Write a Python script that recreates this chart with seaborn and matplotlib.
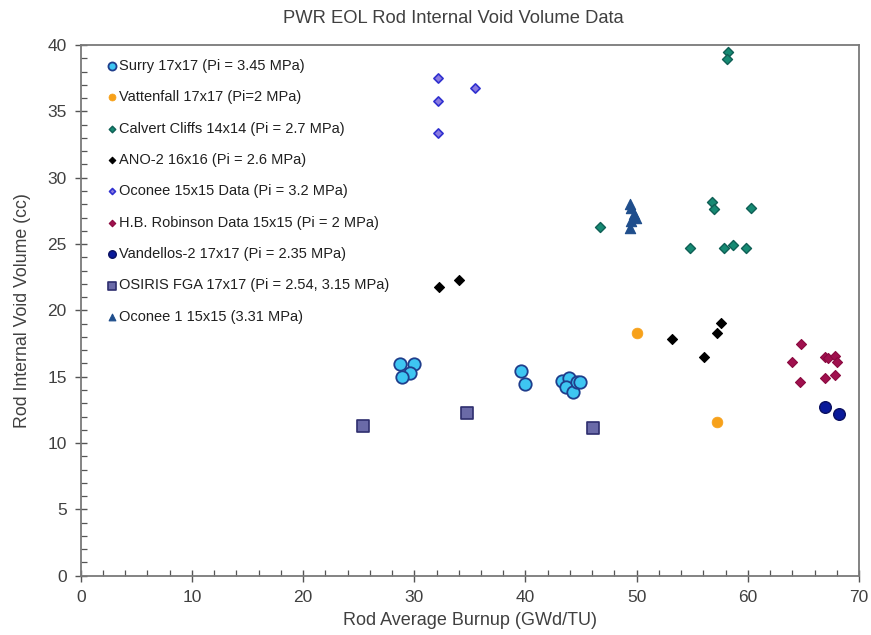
import matplotlib
matplotlib.use("Agg")
import matplotlib.pyplot as plt
import seaborn as sns
import pandas as pd
from matplotlib.ticker import MultipleLocator

sns.set_style("white")
plt.rcParams['font.family'] = ['Liberation Sans', 'DejaVu Sans']

# ---------------- data ----------------
surry_x = [28.7, 30.0, 29.6, 28.9, 39.6, 39.95, 43.3, 43.9, 43.65, 44.3, 44.65, 44.9]
surry_y = [15.97, 15.97, 15.3, 15.0, 15.45, 14.45, 14.7, 14.9, 14.25, 13.85, 14.6, 14.6]

vatt_x = [50.0, 57.2]
vatt_y = [18.3, 11.6]

calvert_x = [58.2, 58.1, 46.7, 56.8, 57.0, 60.3, 54.8, 57.85, 58.65, 59.8]
calvert_y = [39.45, 38.95, 26.3, 28.2, 27.65, 27.7, 24.7, 24.7, 24.9, 24.7]

ano2_x = [32.2, 34.0, 53.2, 56.05, 57.2, 57.6]
ano2_y = [21.8, 22.3, 17.85, 16.5, 18.3, 19.05]

oconee_x = [32.1, 32.1, 32.1, 35.45]
oconee_y = [37.5, 35.8, 33.4, 36.8]

hbr_x = [64.75, 63.95, 64.7, 66.9, 67.25, 67.85, 68.05, 66.9, 67.8]
hbr_y = [17.45, 16.1, 14.6, 16.5, 16.4, 16.55, 16.1, 14.9, 15.15]

vand_x = [66.9, 68.2]
vand_y = [12.7, 12.2]

osiris_x = [25.4, 34.75, 46.05]
osiris_y = [11.3, 12.3, 11.1]

oconee1_x = [49.4, 49.5, 49.8, 49.9, 49.5, 49.4]
oconee1_y = [28.0, 27.7, 27.3, 27.0, 26.75, 26.2]

labels = [
    "Surry 17x17 (Pi = 3.45 MPa)",
    "Vattenfall 17x17 (Pi=2 MPa)",
    "Calvert Cliffs 14x14 (Pi = 2.7 MPa)",
    "ANO-2 16x16 (Pi = 2.6 MPa)",
    "Oconee 15x15 Data (Pi = 3.2 MPa)",
    "H.B. Robinson Data 15x15 (Pi = 2 MPa)",
    "Vandellos-2 17x17 (Pi = 2.35 MPa)",
    "OSIRIS FGA 17x17 (Pi = 2.54, 3.15 MPa)",
    "Oconee 1 15x15 (3.31 MPa)",
]
xs = [surry_x, vatt_x, calvert_x, ano2_x, oconee_x, hbr_x, vand_x, osiris_x, oconee1_x]
ys = [surry_y, vatt_y, calvert_y, ano2_y, oconee_y, hbr_y, vand_y, osiris_y, oconee1_y]

# styles: marker, size, face, edge, edge width
styles = [
    ("o", 80, "#3EC6F2", "#1F3E8C", 1.3),
    ("o", 60, "#F7A11A", "#F7A11A", 0.5),
    ("D", 26, "#168A73", "#0F5F55", 1.0),
    ("D", 26, "#000000", "#000000", 0.8),
    ("D", 22, "#8A7BE0", "#3030D0", 1.2),
    ("D", 26, "#A0104E", "#8A0A40", 0.8),
    ("o", 70, "#0A1A9A", "#0A1060", 1.0),
    ("s", 80, "#6A6AA8", "#2E2E6E", 1.2),
    ("^", 55, "#1F4E8C", "#1F4E8C", 0.8),
]

# ---------------- figure ----------------
fig = plt.figure(figsize=(8.71, 6.35), dpi=100)
ax = fig.add_axes([0.0927, 0.0934, 0.8935, 0.8356])

for lab, x, y, (m, s, fc, ec, lw) in zip(labels, xs, ys, styles):
    df = pd.DataFrame({"x": x, "y": y})
    sns.scatterplot(data=df, x="x", y="y", ax=ax, marker=m, s=s,
                    color=fc, edgecolor=ec, linewidth=lw, label=lab, zorder=3)

ax.set_xlim(0, 70)
ax.set_ylim(0, 40)
ax.xaxis.set_major_locator(MultipleLocator(10))
ax.xaxis.set_minor_locator(MultipleLocator(2))
ax.yaxis.set_major_locator(MultipleLocator(5))
ax.yaxis.set_minor_locator(MultipleLocator(1))

tc = "#404040"
for sp in ax.spines.values():
    sp.set_color("#7a7a7a")
    sp.set_linewidth(1.3)
ax.tick_params(which="major", direction="inout", length=8, width=1.0,
               color="#555555", labelsize=12.5, labelcolor=tc, pad=6)
ax.tick_params(which="minor", direction="in", length=4, width=0.9,
               color="#555555")
ax.tick_params(axis="both", which="both", bottom=True, left=True)

ax.set_xlabel("Rod Average Burnup (GWd/TU)", fontsize=13, color=tc, labelpad=5)
ax.set_ylabel("Rod Internal Void Volume (cc)", fontsize=12.8, color=tc, labelpad=12)
fig.text(0.521, 0.971, "PWR EOL Rod Internal Void Volume Data", ha="center",
         va="center", fontsize=13.2, color=tc)

leg = ax.legend(loc="upper left", bbox_to_anchor=(0.023, 0.985), frameon=False,
                fontsize=10.5, labelspacing=1.19, handletextpad=0.0,
                handlelength=1.0, markerscale=0.65, borderaxespad=0)
for t in leg.get_texts():
    t.set_color("#202020")

fig.savefig("out.png", dpi=100)
